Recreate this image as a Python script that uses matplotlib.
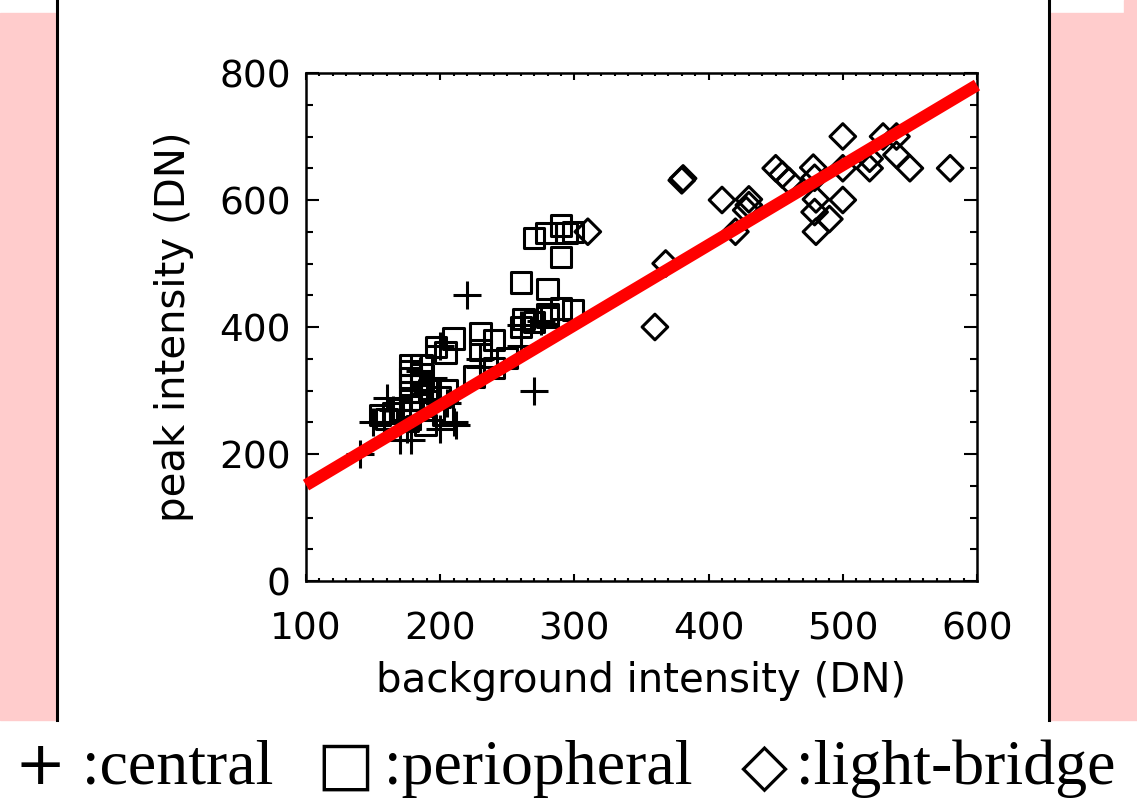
import matplotlib.pyplot as plt
from matplotlib.patches import Rectangle
from matplotlib.lines import Line2D
from matplotlib.ticker import MultipleLocator

# background vs peak intensity (DN) for the three kinds of points
central_bg = [140, 150, 158, 160, 170, 175, 178, 165, 185, 190, 195, 200, 200, 205, 210, 212,
              220, 230, 230, 260, 260, 270, 275, 185]
central_pk = [200, 250, 250, 288, 222, 240, 222, 270, 260, 300, 320, 370, 240, 280, 250, 246,
              450, 350, 337, 403, 370, 300, 410, 330]

periph_bg = [155, 160, 165, 170, 176, 178, 178, 178, 178, 178, 178, 178, 186, 186, 186, 186,
             186, 189, 192, 195, 197, 202, 204, 210, 200, 205, 225, 230, 230, 240, 240, 250,
             260, 262, 270, 280, 290, 299, 260, 280, 290, 270, 279, 290, 294, 299, 280]
periph_pk = [261, 255, 265, 270, 253, 340, 330, 320, 309, 298, 285, 275, 340, 325, 310, 298,
             285, 246, 300, 270, 369, 261, 360, 382, 290, 300, 322, 390, 364, 380, 335, 351,
             400, 413, 408, 416, 429, 427, 470, 460, 510, 540, 548, 560, 548, 550, 420]

bridge_bg = [310, 360, 368, 380, 381, 410, 420, 430, 430, 428, 450, 455, 460, 478, 479, 480,
             479, 480, 490, 500, 500, 500, 520, 520, 530, 540, 540, 550, 580]
bridge_pk = [550, 400, 500, 631, 634, 600, 550, 601, 592, 584, 650, 640, 630, 651, 635, 601,
             581, 550, 570, 700, 650, 600, 650, 665, 700, 700, 671, 650, 650]

# linear fit drawn across the full x range
fit_bg = [100, 600]
fit_pk = [151, 781]

xticks = [100, 200, 300, 400, 500, 600]
yticks = [0, 200, 400, 600, 800]

W, H = 1137, 798
fig = plt.figure(figsize=(W / 100, H / 100), dpi=100)
fig.patch.set_facecolor('white')

pink = '#ffcccc'
# pink side bands and the dark frame lines of the panel
fig.patches.append(Rectangle((0, 1 - 720 / H), 55 / W, (720 - 13) / H,
                             transform=fig.transFigure, color=pink, zorder=0))
fig.patches.append(Rectangle((1050 / W, 1 - 720 / H), 87 / W, (720 - 13) / H,
                             transform=fig.transFigure, color=pink, zorder=0))
fig.patches.append(Rectangle((1124 / W, 1 - 13 / H), 13 / W, 13 / H,
                             transform=fig.transFigure, color=pink, zorder=0))
for xp in (56.5, 1048.5):
    fig.lines.append(Line2D([xp / W, xp / W], [1 - 720 / H, 1], transform=fig.transFigure,
                            color='black', lw=2.2))

ax = fig.add_axes([306 / W, 1 - 581 / H, (977 - 306) / W, (581 - 73) / H])
ax.set_xlim(100, 600)
ax.set_ylim(0, 800)

ax.scatter(central_bg, central_pk, marker='+', s=400, c='black', linewidths=2.2, zorder=3)
ax.scatter(periph_bg, periph_pk, marker='s', s=215, facecolors='none', edgecolors='black',
           linewidths=2.2, zorder=3)
ax.scatter(bridge_bg, bridge_pk, marker='D', s=170, facecolors='none', edgecolors='black',
           linewidths=2.2, zorder=3)
ax.plot(fit_bg, fit_pk, color='red', lw=8.8, solid_capstyle='butt', clip_on=False, zorder=4)

ax.set_xticks(xticks)
ax.set_yticks(yticks)
ax.xaxis.set_minor_locator(MultipleLocator(10))
ax.yaxis.set_minor_locator(MultipleLocator(50))
ax.tick_params(which='both', direction='in', top=True, right=True, width=1.5, labelsize=27)
ax.tick_params(axis='x', which='major', length=5, pad=22)
ax.tick_params(axis='x', which='minor', length=2.5)
ax.tick_params(axis='y', which='major', length=9.4, pad=11)
ax.tick_params(axis='y', which='minor', length=5)
for sp in ax.spines.values():
    sp.set_linewidth(1.8)

ax.set_xlabel('background intensity (DN)', fontsize=29, labelpad=10)
ax.set_ylabel('peak intensity (DN)', fontsize=29, labelpad=18)

# symbol key under the panel
serif = ['Liberation Serif', 'DejaVu Serif', 'DejaVu Sans']
base = 1 - 784 / H
key = [(82, ':central'), (384, ':periopheral'), (796, ':light-bridge')]
for xp, txt in key:
    fig.text(xp / W, base, txt, family=serif, fontsize=46, va='baseline', ha='left')
symbols = [(40, '+'), (345, '\u25a1'), (764, '\u25c7')]
for xp, txt in symbols:
    fig.text(xp / W, base, txt, family=['DejaVu Sans'], fontsize=44, va='baseline',
             ha='center')

fig.savefig('out.png', dpi=100)
